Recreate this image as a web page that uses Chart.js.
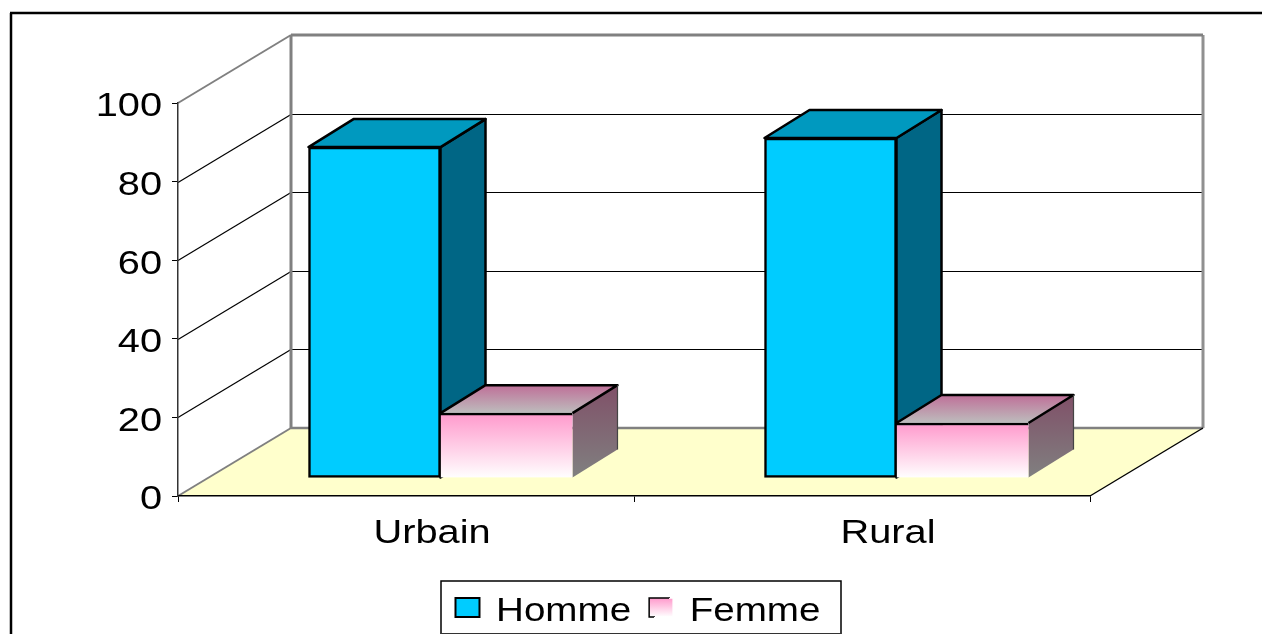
<!DOCTYPE html>
<html>
<head>
<meta charset="utf-8">
<style>html,body{margin:0;padding:0;background:#fff;overflow:hidden}canvas{display:block}</style>
<script src="https://cdn.jsdelivr.net/npm/chart.js@4"></script>
</head>
<body>
<canvas id="c" width="1262" height="634"></canvas>
<script>
const categories = ['Urbain', 'Rural'];
const seriesNames = ['Homme', 'Femme'];
const hommeValues = [84.2, 86.5];
const femmeValues = [16.5, 14];

// Look of the 3D box
const WALL = {dx: 113, dy: -68};
const BAR_SHIFT = {dx: 34.5, dy: -18};
const BAR_DEPTH = {dx: 45, dy: -28};
const TEXT_STRETCH = 1.17;
const TEXT_DROP = 4;

Chart.defaults.font.family = 'Liberation Sans';

const canvas = document.getElementById('c');
const ctx = canvas.getContext('2d');

// The reference's text is horizontally stretched
const origFill = ctx.fillText.bind(ctx), origMeasure = ctx.measureText.bind(ctx);
ctx.fillText = function (t, x, y) {
  ctx.save(); ctx.translate(x, y + TEXT_DROP); ctx.scale(TEXT_STRETCH, 1); origFill(t, 0, 0); ctx.restore();
};
ctx.measureText = function (t) {
  const m = origMeasure(t);
  return {width: m.width * TEXT_STRETCH, actualBoundingBoxAscent: m.actualBoundingBoxAscent, actualBoundingBoxDescent: m.actualBoundingBoxDescent};
};

function poly(c, pts, fill, stroke, lw) {
  c.beginPath();
  pts.forEach((p, i) => i ? c.lineTo(p[0], p[1]) : c.moveTo(p[0], p[1]));
  c.closePath();
  if (fill) { c.fillStyle = fill; c.fill(); }
  if (stroke) { c.strokeStyle = stroke; c.lineWidth = lw || 2; c.stroke(); }
}
function line(c, x1, y1, x2, y2, col, lw) {
  c.beginPath(); c.moveTo(x1, y1); c.lineTo(x2, y2);
  c.strokeStyle = col; c.lineWidth = lw; c.stroke();
}
function vGrad(c, y0, y1, a, b) {
  const g = c.createLinearGradient(0, y0, 0, y1);
  g.addColorStop(0, a); g.addColorStop(1, b);
  return g;
}

const scene3d = {
  id: 'scene3d',
  afterLayout(chart) {
    chart.legend.left += 4; chart.legend.right += 4;
  },
  beforeDraw(chart) {
    const c = chart.ctx, a = chart.chartArea, y = chart.scales.y;
    const wx = WALL.dx, wy = WALL.dy;
    c.save();
    // page frame
    c.fillStyle = '#fff'; c.fillRect(0, 0, chart.width, chart.height);
    line(c, 11, 634, 11, 13, '#000', 2.5);
    line(c, 10, 13, 1262, 13, '#000', 2.5);
    // floor
    poly(c, [[a.left, a.bottom], [a.left + wx, a.bottom + wy], [a.right + wx, a.bottom + wy], [a.right, a.bottom]], '#FFFFCC');
    // gridlines on both walls
    [20, 40, 60, 80].forEach(v => {
      const p = Math.round(y.getPixelForValue(v)) + 0.5;
      line(c, a.left, p, a.left + wx, p + wy, '#000', 1.2);
      line(c, a.left + wx, p + wy, a.right + wx, p + wy, '#000', 1);
    });
    // wall borders
    const top = y.getPixelForValue(100), bot = y.getPixelForValue(0);
    line(c, a.left, top, a.left + wx, top + wy, '#808080', 2);
    line(c, a.left, bot, a.left + wx, bot + wy, '#808080', 2);
    line(c, a.left + wx, top + wy, a.left + wx, bot + wy, '#808080', 3);
    line(c, a.right + wx, top + wy, a.right + wx, bot + wy, '#909090', 3);
    line(c, a.left + wx, top + wy, a.right + wx, top + wy, '#808080', 3);
    line(c, a.left + wx, bot + wy, a.right + wx, bot + wy, '#808080', 2.5);
    line(c, a.right, bot, a.right + wx, bot + wy, '#000', 1.4);
    // legend frame
    c.strokeStyle = '#000'; c.lineWidth = 1.5;
    c.beginPath(); c.moveTo(441, 634); c.lineTo(441, 581); c.lineTo(841, 581); c.lineTo(841, 634); c.stroke();
    line(c, 441, 633.5, 841, 633.5, '#333', 1);
    c.restore();
  },
  beforeDatasetsDraw(chart) {
    const c = chart.ctx, dx = BAR_DEPTH.dx, dy = BAR_DEPTH.dy;
    c.save();
    c.translate(BAR_SHIFT.dx, BAR_SHIFT.dy);
    c.lineJoin = 'round';
    chart.getDatasetMeta(0).data.forEach(b => {
      const r = b.x + b.width / 2, l = b.x - b.width / 2;
      poly(c, [[r, b.y], [r + dx, b.y + dy], [r + dx, b.base + dy], [r, b.base]], '#006685', '#000', 2.5);
      poly(c, [[l, b.y], [l + dx, b.y + dy], [r + dx, b.y + dy], [r, b.y]], '#0099BF', '#000', 2.5);
    });
    chart.getDatasetMeta(1).data.forEach(b => {
      const r = b.x + b.width / 2, l = b.x - b.width / 2;
      poly(c, [[r, b.y], [r + dx, b.y + dy], [r + dx, b.base + dy], [r, b.base]],
        vGrad(c, b.y + dy, b.base, '#805068', '#808080'));
      poly(c, [[l, b.y], [l + dx, b.y + dy], [r + dx, b.y + dy], [r, b.y]],
        vGrad(c, b.y + dy, b.y, '#BF6F98', '#BDBDBD'));
      c.strokeStyle = '#000'; c.lineWidth = 2.5;
      c.beginPath(); c.moveTo(l, b.y); c.lineTo(l + dx, b.y + dy); c.lineTo(r + dx, b.y + dy); c.lineTo(r, b.y); c.stroke();
      line(c, r + dx, b.y + dy, r + dx, b.base + dy, '#444', 1.2);
    });
    // the library's own bar fronts are drawn inside the same shift
  },
  afterDatasetsDraw(chart) { chart.ctx.restore(); }
};

new Chart(ctx, {
  type: 'bar',
  data: {
    labels: categories,
    datasets: [
      {label: seriesNames[0], data: hommeValues, backgroundColor: '#00CCFF', borderColor: '#000',
       borderWidth: 2.5, borderSkipped: false},
      {label: seriesNames[1], data: femmeValues, borderColor: '#000',
       borderWidth: {top: 2.5, left: 0, right: 0, bottom: 0}, borderSkipped: false,
       backgroundColor(cx) {
         if (cx.raw === undefined) return '#FF99CC';
         const s = cx.chart.scales.y;
         return vGrad(cx.chart.ctx, s.getPixelForValue(cx.raw), s.getPixelForValue(0), '#FF99CC', '#FFFFFF');
       }}
    ]
  },
  plugins: [scene3d],
  options: {
    responsive: false,
    animation: false,
    devicePixelRatio: 1,
    layout: {padding: {left: 0, right: 172, top: 103, bottom: 0}},
    datasets: {bar: {barThickness: 132, categoryPercentage: 1, barPercentage: 1, clip: false}},
    scales: {
      x: {
        afterFit(s) { s.height = 77; },
        grid: {drawOnChartArea: false, tickLength: 6, tickColor: '#000', offset: true},
        border: {color: '#000', width: 1.5},
        ticks: {color: '#000', font: {size: 34}, padding: 7, labelOffset: 26, maxRotation: 0, autoSkip: false}
      },
      y: {
        min: 0, max: 100,
        afterFit(s) { s.width = 178; },
        grid: {drawOnChartArea: false, tickLength: 6, tickColor: '#000'},
        border: {color: '#333', width: 1.5},
        ticks: {color: '#000', font: {size: 34}, padding: 10, stepSize: 20}
      }
    },
    plugins: {
      title: {display: false},
      tooltip: {enabled: false},
      legend: {
        position: 'bottom',
        fullSize: false,
        labels: {
          color: '#000', font: {size: 33}, boxWidth: 24, boxHeight: 19, padding: 18,
          generateLabels(chart) {
            const c = chart.ctx;
            const fill = vGrad(c, 598, 617, '#FF99CC', '#FFFFFF');
            const edge = c.createLinearGradient(650, 598, 674, 617);
            edge.addColorStop(0, '#000'); edge.addColorStop(0.5, '#000'); edge.addColorStop(0.51, '#fff');
            return [
              {text: seriesNames[0], fillStyle: '#00CCFF', strokeStyle: '#000', lineWidth: 2, datasetIndex: 0},
              {text: seriesNames[1], fillStyle: fill, strokeStyle: edge, lineWidth: 1.5, datasetIndex: 1}
            ];
          }
        }
      }
    }
  }
});
</script>
</body>
</html>
